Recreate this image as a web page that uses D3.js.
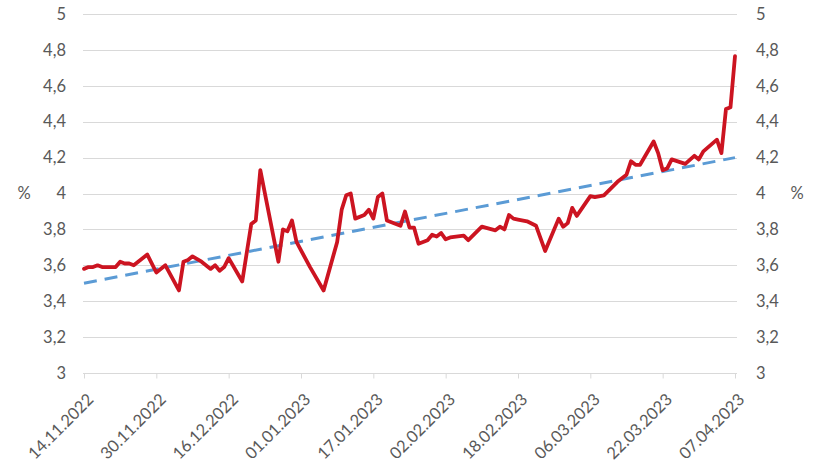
<!DOCTYPE html>
<html>
<head>
<meta charset="utf-8">
<script src="https://cdn.jsdelivr.net/npm/d3@7"></script>
<style>
  body { margin: 0; background: #fff; }
  svg text { font-family: Lato, "Open Sans", sans-serif; font-size: 16px; fill: #595959; }
</style>
</head>
<body>
<svg id="chart" width="815" height="469"></svg>
<script>
// ---- data ----
const dates = [
  "14.11.2022","15.11.2022","16.11.2022","17.11.2022","18.11.2022","21.11.2022","22.11.2022","23.11.2022","24.11.2022","25.11.2022",
  "28.11.2022","30.11.2022","02.12.2022","05.12.2022","06.12.2022","07.12.2022","08.12.2022","10.12.2022","12.12.2022","13.12.2022",
  "14.12.2022","15.12.2022","16.12.2022","19.12.2022","21.12.2022","22.12.2022","23.12.2022","27.12.2022","28.12.2022","29.12.2022",
  "30.12.2022","31.12.2022","03.01.2023","06.01.2023","09.01.2023","10.01.2023","11.01.2023","12.01.2023","13.01.2023","15.01.2023",
  "16.01.2023","17.01.2023","18.01.2023","19.01.2023","20.01.2023","22.01.2023","23.01.2023","24.01.2023","25.01.2023","26.01.2023",
  "27.01.2023","29.01.2023","30.01.2023","31.01.2023","01.02.2023","02.02.2023","03.02.2023","06.02.2023","07.02.2023","10.02.2023",
  "13.02.2023","14.02.2023","15.02.2023","16.02.2023","17.02.2023","18.02.2023","20.02.2023","22.02.2023","24.02.2023","27.02.2023",
  "28.02.2023","01.03.2023","02.03.2023","03.03.2023","06.03.2023","07.03.2023","09.03.2023","12.03.2023","14.03.2023","15.03.2023",
  "16.03.2023","17.03.2023","20.03.2023","21.03.2023","22.03.2023","23.03.2023","24.03.2023","27.03.2023","29.03.2023","30.03.2023",
  "31.03.2023","03.04.2023","04.04.2023","05.04.2023","06.04.2023","07.04.2023"
];
const rates = [
  3.58,3.59,3.59,3.60,3.59,3.59,3.62,3.61,3.61,3.60,
  3.66,3.56,3.60,3.46,3.62,3.63,3.65,3.62,3.58,3.60,
  3.57,3.59,3.64,3.51,3.83,3.85,4.13,3.62,3.80,3.79,
  3.85,3.73,3.59,3.46,3.73,3.91,3.99,4.00,3.86,3.88,
  3.91,3.86,3.98,4.00,3.85,3.83,3.82,3.90,3.81,3.81,
  3.72,3.74,3.77,3.76,3.78,3.745,3.755,3.765,3.74,3.815,
  3.795,3.815,3.80,3.88,3.86,3.855,3.845,3.82,3.68,3.86,
  3.815,3.835,3.92,3.875,3.985,3.98,3.99,4.065,4.105,4.18,
  4.16,4.16,4.29,4.225,4.13,4.14,4.19,4.165,4.21,4.19,
  4.235,4.30,4.225,4.47,4.48,4.765
];
const trendDates = ["14.11.2022", "07.04.2023"];
const trendValues = [3.50, 4.20];
const xTickLabels = ["14.11.2022","30.11.2022","16.12.2022","01.01.2023","17.01.2023",
                     "02.02.2023","18.02.2023","06.03.2023","22.03.2023","07.04.2023"];
const yTicks = [3, 3.2, 3.4, 3.6, 3.8, 4, 4.2, 4.4, 4.6, 4.8, 5];
const unitLabel = "%";

// ---- drawing ----
const parse = d3.utcParse("%d.%m.%Y");
const svg = d3.select("#chart");
const plotLeft = 83, plotRight = 737;

const x = d3.scaleUtc()
  .domain([parse(xTickLabels[0]), parse(xTickLabels[xTickLabels.length - 1])])
  .range([84, 735]);
const y = d3.scaleLinear().domain([3, 5]).range([373, 14]);

const fmt = v => String(+v.toFixed(1)).replace(".", ",");

// gridlines
svg.append("g").selectAll("line").data(yTicks).join("line")
  .attr("x1", plotLeft).attr("x2", plotRight)
  .attr("y1", d => Math.round(y(d)) + 0.5).attr("y2", d => Math.round(y(d)) + 0.5)
  .attr("stroke", "#D9D9D9").attr("stroke-width", 1);

// left y axis labels
const yAxisL = d3.axisLeft(y).tickValues(yTicks).tickFormat(fmt).tickSize(0).tickPadding(17);
const gL = svg.append("g").attr("transform", `translate(${plotLeft},0)`).call(yAxisL);
gL.select(".domain").remove();
gL.selectAll("text").style("font-family", "Lato, sans-serif").style("font-size", "16.5px").attr("fill", "#595959");

// right y axis labels
const yAxisR = d3.axisRight(y).tickValues(yTicks).tickFormat(fmt).tickSize(0).tickPadding(19);
const gR = svg.append("g").attr("transform", `translate(${plotRight},0)`).call(yAxisR);
gR.select(".domain").remove();
gR.selectAll("text").style("font-family", "Lato, sans-serif").style("font-size", "16.5px").attr("fill", "#595959");

// unit labels
svg.append("text").attr("x", 24).attr("y", y(4)).attr("dy", "0.35em").attr("text-anchor", "middle").style("font-size", "16.5px").text(unitLabel);
svg.append("text").attr("x", 797).attr("y", y(4)).attr("dy", "0.35em").attr("text-anchor", "middle").style("font-size", "16.5px").text(unitLabel);

// x axis
const xAxis = d3.axisBottom(x).tickValues(xTickLabels.map(parse)).tickFormat((d, i) => xTickLabels[i]).tickSize(5).tickSizeOuter(0);
const gX = svg.append("g").attr("transform", `translate(0,${Math.round(y(3)) + 0.5})`).call(xAxis);
gX.select(".domain").remove();
gX.selectAll(".tick line").attr("stroke", "#D9D9D9");
gX.selectAll(".tick text")
  .style("font-family", "Lato, sans-serif").style("font-size", "16.5px").attr("fill", "#595959")
  .attr("text-anchor", "end")
  .attr("y", 0).attr("dy", "0.35em")
  .attr("transform", "translate(6,23) rotate(-45)");

// trend line (dashed)
const trend = trendDates.map((d, i) => ({ date: parse(d), v: trendValues[i] }));
svg.append("path").datum(trend)
  .attr("fill", "none").attr("stroke", "#5B9BD5").attr("stroke-width", 3)
  .attr("stroke-dasharray", "13,8")
  .attr("d", d3.line().x(d => x(d.date)).y(d => y(d.v)));

// main series
const series = dates.map((d, i) => ({ date: parse(d), v: rates[i] }));
svg.append("path").datum(series)
  .attr("fill", "none").attr("stroke", "#CC1421").attr("stroke-width", 3.8)
  .attr("stroke-linejoin", "round").attr("stroke-linecap", "round")
  .attr("d", d3.line().x(d => x(d.date)).y(d => y(d.v)));
</script>
</body>
</html>
